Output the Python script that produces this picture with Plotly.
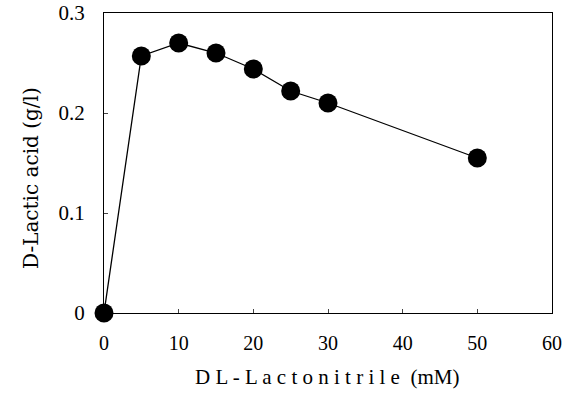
import plotly.graph_objects as go

conc = [0, 5, 10, 15, 20, 25, 30, 50]
lactic = [0.0, 0.257, 0.270, 0.260, 0.244, 0.222, 0.210, 0.155]
x_ticks = [0, 10, 20, 30, 40, 50, 60]
y_ticks = [0, 0.1, 0.2, 0.3]
y_tick_labels = ["0", "0.1", "0.2", "0.3"]
x_title = "D L - L a c t o n i t r i l e  (mM)"
y_title = "D-Lactic acid (g/l)"

fig = go.Figure()
fig.add_trace(go.Scatter(
    x=conc, y=lactic, mode="lines+markers",
    line=dict(color="black", width=1.3),
    marker=dict(color="black", size=19),
    cliponaxis=False, showlegend=False,
))

serif = "Liberation Serif, serif"
fig.update_layout(
    width=571, height=396,
    margin=dict(l=104, r=19, t=13, b=83, autoexpand=False),
    paper_bgcolor="white", plot_bgcolor="white",
    font=dict(family=serif, color="black", size=20),
    xaxis=dict(
        range=[0, 60], tickvals=x_ticks, ticks="inside", ticklen=4,
        showline=True, mirror=True, linecolor="black", linewidth=1.3,
        showgrid=False, zeroline=False, ticklabelstandoff=12, automargin=False,
        tickfont=dict(size=20, family=serif),
    ),
    yaxis=dict(
        range=[0, 0.3], tickvals=y_ticks, ticktext=y_tick_labels,
        ticks="inside", ticklen=4,
        showline=True, mirror=True, linecolor="black", linewidth=1.3,
        showgrid=False, zeroline=False, ticklabelstandoff=14, automargin=False,
        tickfont=dict(size=21, family=serif),
    ),
    annotations=[
        dict(
            text=y_title, textangle=-90, showarrow=False,
            xref="paper", yref="paper",
            x=(31 - 104) / 448, y=(313 - 178) / 300,
            xanchor="center", yanchor="middle",
            font=dict(size=20, family="DejaVu Serif, serif", color="black"),
        ),
        dict(
            text=x_title, showarrow=False,
            xref="paper", yref="paper",
            x=(327 - 104) / 448, y=(313 - 377) / 300,
            xanchor="center", yanchor="middle",
            font=dict(size=21, family=serif, color="black"),
        ),
    ],
)
fig.write_html("out.html")
